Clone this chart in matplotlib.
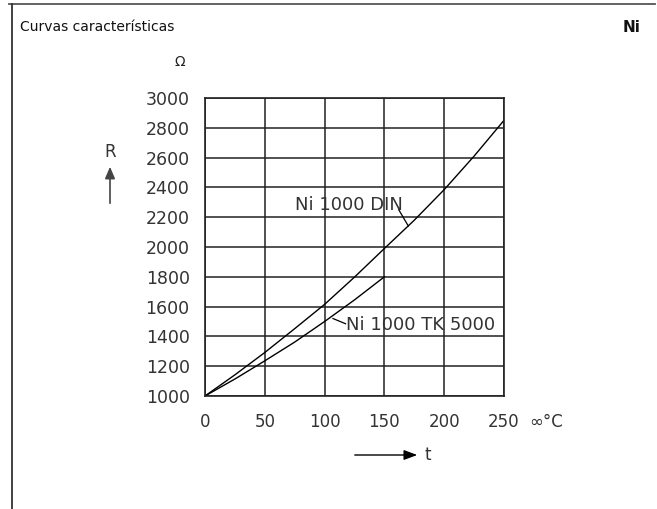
import matplotlib
matplotlib.use('Agg')
import matplotlib.pyplot as plt
from matplotlib.lines import Line2D
from matplotlib.patches import FancyArrowPatch

# Datos
t_din = [0, 25, 50, 75, 100, 125, 150, 175, 200, 225, 250]
r_din = [1000, 1142, 1292, 1452, 1615, 1798, 1990, 2180, 2385, 2610, 2850]
t_tk = [0, 25, 50, 75, 100, 125, 150]
r_tk = [1000, 1114, 1236, 1362, 1500, 1645, 1800]

x_ticks = [0, 50, 100, 150, 200, 250]
y_ticks = [1000, 1200, 1400, 1600, 1800, 2000, 2200, 2400, 2600, 2800, 3000]

W, H = 657, 509
fig = plt.figure(figsize=(W / 100, H / 100), dpi=100)
fig.patch.set_facecolor('white')

# marco exterior
fig.add_artist(Line2D([9 / W, 655 / W], [1 - 4 / H, 1 - 4 / H], color='#555555', lw=1.3))
fig.add_artist(Line2D([12 / W, 12 / W], [0, 1 - 4 / H], color='#333333', lw=1.3))

fig.text(20 / W, 1 - 27 / H, 'Curvas características', fontsize=10, ha='left', va='center',
         color='#111111')
fig.text(640 / W, 1 - 27 / H, 'Ni', fontsize=11, fontweight='bold', ha='right', va='center',
         color='#111111')

ax = fig.add_axes([205 / W, 1 - 396 / H, 299 / W, 298 / H])
ax.set_xlim(0, 250)
ax.set_ylim(1000, 3000)
ax.set_xticks(x_ticks)
ax.set_yticks(y_ticks)
ax.set_xticklabels([str(v) for v in x_ticks], fontsize=12, color='#333333')
ax.set_yticklabels([str(v) for v in y_ticks], fontsize=12.5, color='#333333')
ax.tick_params(axis='y', length=0, pad=11)
ax.tick_params(axis='x', length=0, pad=12)
ax.grid(True, color='#222222', lw=1.1)
for s in ax.spines.values():
    s.set_color('#222222')
    s.set_linewidth(1.2)

ax.plot(t_din, r_din, color='black', lw=1)
ax.plot(t_tk, r_tk, color='black', lw=1)

# etiquetas de las curvas con lineas de referencia
ax.text(165.5, 2282, 'Ni 1000 DIN', fontsize=13, ha='right', va='center', color='#333333')
ax.plot([162, 170], [2250, 2141], color='black', lw=0.9)
ax.text(118, 1476, 'Ni 1000 TK 5000', fontsize=13, ha='left', va='center', color='#333333')
ax.plot([107, 117.5], [1520, 1485], color='black', lw=0.9)

# unidades y flechas
fig.text(180 / W, 1 - 62 / H, 'Ω', fontsize=10, ha='center', va='center', color='#222222')
fig.text(110 / W, 1 - 152 / H, 'R', fontsize=12, ha='center', va='center', color='#333333')
fig.add_artist(FancyArrowPatch((110 / W, 1 - 206 / H), (110 / W, 1 - 164 / H),
               transform=fig.transFigure, arrowstyle='-|>,head_length=7,head_width=3',
               color='#444444', lw=1.2))
fig.text(546 / W, 1 - 422 / H, '∞°C', fontsize=12, ha='center', va='center', color='#333333')
fig.add_artist(FancyArrowPatch((352 / W, 1 - 455 / H), (420 / W, 1 - 455 / H),
               transform=fig.transFigure, arrowstyle='-|>,head_length=8,head_width=3',
               color='black', lw=1))
fig.text(428 / W, 1 - 455 / H, 't', fontsize=12, ha='center', va='center', color='#333333')

plt.savefig('out.png', dpi=100, facecolor='white')
plt.close()
